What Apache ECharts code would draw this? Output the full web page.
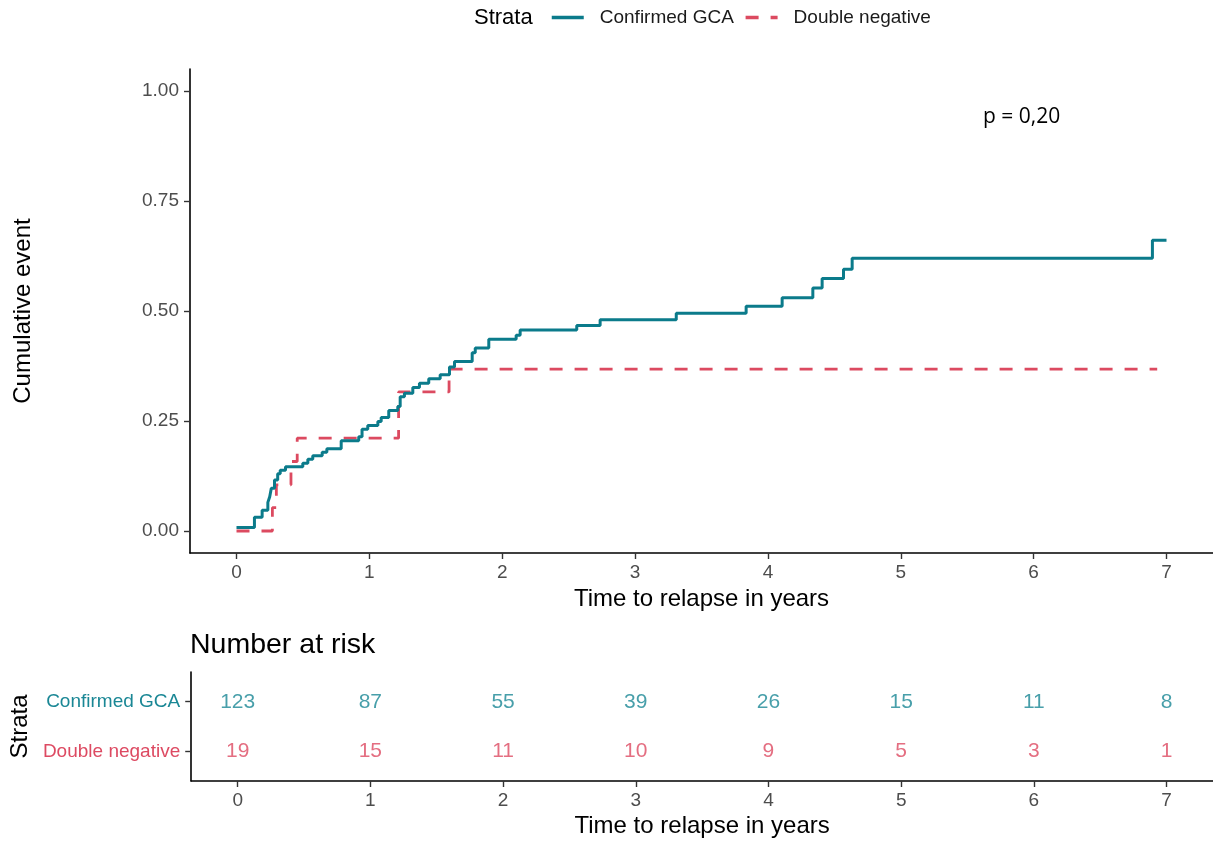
<!DOCTYPE html>
<html>
<head>
<meta charset="utf-8">
<script src="https://cdn.jsdelivr.net/npm/echarts@6/dist/echarts.min.js"></script>
<style>
html,body{margin:0;padding:0;background:#fff;}
#chart{width:1213px;height:843px;}
</style>
</head>
<body>
<div id="chart"></div>
<script>
// ---- data ----
const strataNames = ['Confirmed GCA', 'Double negative'];
const gcaTimes = [0, 0.135, 0.193, 0.236, 0.25, 0.262, 0.286, 0.31, 0.329, 0.369, 0.499, 0.537, 0.574, 0.645, 0.68, 0.788, 0.92, 0.945, 0.988, 1.064, 1.089, 1.146, 1.214, 1.232, 1.264, 1.327, 1.377, 1.447, 1.533, 1.603, 1.641, 1.774, 1.797, 1.899, 2.105, 2.135, 2.561, 2.737, 3.31, 3.836, 4.107, 4.338, 4.408, 4.569, 4.634, 6.894, 7.0];
const gcaCum = [0.008, 0.031, 0.047, 0.065, 0.078, 0.097, 0.116, 0.13, 0.138, 0.146, 0.154, 0.163, 0.171, 0.179, 0.187, 0.205, 0.214, 0.231, 0.24, 0.249, 0.258, 0.274, 0.283, 0.305, 0.313, 0.326, 0.336, 0.346, 0.355, 0.373, 0.385, 0.405, 0.416, 0.436, 0.445, 0.457, 0.467, 0.48, 0.495, 0.511, 0.53, 0.552, 0.574, 0.595, 0.62, 0.661, 0.661];
const dnTimes = [0, 0.27, 0.30, 0.41, 0.457, 1.22, 1.60, 6.93];
const dnCum = [0, 0.053, 0.105, 0.158, 0.211, 0.316, 0.368, 0.368];
const riskTimes = [0, 1, 2, 3, 4, 5, 6, 7];
const riskGCA = [123, 87, 55, 39, 26, 15, 11, 8];
const riskDN = [19, 15, 11, 10, 9, 5, 3, 1];
const xTicks = [0, 1, 2, 3, 4, 5, 6, 7];
const yTicks = [0, 0.25, 0.5, 0.75, 1.0];
const riskRows = [2, 1]; // row positions for strata (GCA top, DN bottom)
const pText = 'p = 0,20';

// ---- styles ----
const TEAL = '#0b7b8b', RED = '#dc4a60';
const TEAL_TXT = '#1a8795', RED_TXT = '#dd4a62';
const FONT = "'Liberation Sans', Arial, sans-serif";
const tickLabel = {color: '#4d4d4d', fontSize: 19, fontFamily: FONT};
const axisLine = {show: true, onZero: false, lineStyle: {color: '#000', width: 1.6}};
const axisTick = {show: true, length: 6, lineStyle: {color: '#333', width: 1.4}};
const axisTitle = {fontSize: 24, color: '#000', fontFamily: FONT};

const chart = echarts.init(document.getElementById('chart'));
chart.setOption({
  animation: false,
  backgroundColor: '#fff',
  textStyle: {fontFamily: FONT},
  title: [
    {text: 'Number at risk', left: 190, top: 631, padding: 0,
     textStyle: {fontSize: 28.5, fontWeight: 'normal', color: '#000', fontFamily: FONT}},
    {text: 'Strata', left: 474, top: 7, padding: 0,
     textStyle: {fontSize: 22, fontWeight: 'normal', color: '#000', fontFamily: FONT}},
    {text: pText, left: 983, top: 107, padding: 0,
     textStyle: {fontSize: 21, fontWeight: 'normal', color: '#000', fontFamily: "'Open Sans', sans-serif"}}
  ],
  legend: {
    data: strataNames,
    left: 550, top: 8, padding: 0,
    itemWidth: 32, itemHeight: 14, itemGap: 10,
    itemStyle: {color: 'rgba(0,0,0,0)', borderColor: 'rgba(0,0,0,0)', borderWidth: 0, opacity: 0},
    lineStyle: {width: 3.5},
    textStyle: {fontSize: 19, color: '#1a1a1a', fontFamily: FONT, padding: [0, 0, 0, 11]}
  },
  grid: [
    {left: 190, top: 69, width: 1023, height: 484, containLabel: false},
    {left: 190, top: 672, width: 1023, height: 109, containLabel: false}
  ],
  xAxis: [
    {type: 'value', gridIndex: 0, min: -0.35, max: 7.35,
     name: 'Time to relapse in years', nameLocation: 'middle', nameGap: 32,
     nameTextStyle: axisTitle,
     axisLine: axisLine, axisTick: Object.assign({customValues: xTicks}, axisTick),
     axisLabel: Object.assign({customValues: xTicks, margin: 10, formatter: v => String(v)}, tickLabel),
     splitLine: {show: false}},
    {type: 'value', gridIndex: 1, min: -0.35, max: 7.35,
     name: 'Time to relapse in years', nameLocation: 'middle', nameGap: 33,
     nameTextStyle: axisTitle,
     axisLine: axisLine, axisTick: Object.assign({customValues: xTicks}, axisTick),
     axisLabel: Object.assign({customValues: xTicks, margin: 10, formatter: v => String(v)}, tickLabel),
     splitLine: {show: false}}
  ],
  yAxis: [
    {type: 'value', gridIndex: 0, min: -0.05, max: 1.05,
     name: 'Cumulative event', nameLocation: 'middle', nameGap: 155,
     nameTextStyle: axisTitle,
     axisLine: axisLine, axisTick: Object.assign({customValues: yTicks}, axisTick),
     axisLabel: Object.assign({customValues: yTicks, margin: 11, formatter: v => v.toFixed(2)}, tickLabel),
     splitLine: {show: false}},
    {type: 'value', gridIndex: 1, min: 0.4, max: 2.6,
     name: 'Strata', nameLocation: 'middle', nameGap: 156,
     nameTextStyle: axisTitle,
     axisLine: axisLine, axisTick: Object.assign({customValues: riskRows}, axisTick),
     axisLabel: {customValues: riskRows, margin: 11, fontSize: 19, fontFamily: FONT,
       formatter: v => v === riskRows[0] ? '{a|' + strataNames[0] + '}' : '{b|' + strataNames[1] + '}',
       rich: {a: {color: TEAL_TXT, fontSize: 19, fontFamily: FONT}, b: {color: RED_TXT, fontSize: 19, fontFamily: FONT}}},
     splitLine: {show: false}}
  ],
  series: [
    {name: strataNames[0], type: 'line', step: 'end', xAxisIndex: 0, yAxisIndex: 0,
     data: gcaTimes.map((t, i) => [t, gcaCum[i]]), symbol: 'none', showSymbol: false,
     lineStyle: {color: TEAL, width: 3}, itemStyle: {color: TEAL}, z: 3},
    {name: strataNames[1], type: 'line', step: 'end', xAxisIndex: 0, yAxisIndex: 0,
     data: dnTimes.map((t, i) => [t, dnCum[i]]), symbol: 'none', showSymbol: false,
     lineStyle: {color: RED, width: 2.8, type: [13, 12]}, itemStyle: {color: RED}, z: 2},
    {type: 'scatter', xAxisIndex: 1, yAxisIndex: 1, symbolSize: 0, silent: true,
     data: riskTimes.map((t, i) => [t, riskRows[0], riskGCA[i]]),
     label: {show: true, position: 'inside', formatter: p => String(p.value[2]), color: TEAL_TXT, fontSize: 21, fontFamily: FONT}},
    {type: 'scatter', xAxisIndex: 1, yAxisIndex: 1, symbolSize: 0, silent: true,
     data: riskTimes.map((t, i) => [t, riskRows[1], riskDN[i]]),
     label: {show: true, position: 'inside', formatter: p => String(p.value[2]), color: RED_TXT, fontSize: 21, fontFamily: FONT}}
  ]
});
</script>
</body>
</html>
